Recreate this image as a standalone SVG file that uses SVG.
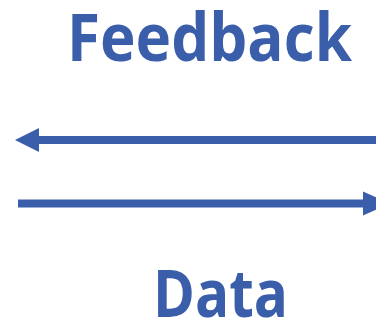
<svg xmlns="http://www.w3.org/2000/svg" width="376" height="324" viewBox="0 0 376 324">
<style>
.t{font-family:"Open Sans","Liberation Sans",sans-serif;font-weight:bold;fill:#3B5EAB;font-size:67px}
.c{stroke:#3B5EAB;stroke-width:8;fill:none}
.h{fill:#3B5EAB}
</style>
<rect width="376" height="324" fill="#FFFFFF"/>
<g id="feedback"><text class="t" x="67" y="61" textLength="285" lengthAdjust="spacingAndGlyphs">Feedback</text></g>
<g id="data"><text class="t" x="153" y="317" textLength="135" lengthAdjust="spacingAndGlyphs">Data</text></g>
<g id="connectors">
<line class="c" x1="376" y1="140" x2="38" y2="140"/>
<polygon class="h" points="15,140 39,128 39,152"/>
<line class="c" x1="18" y1="203.5" x2="365" y2="203.5"/>
<polygon class="h" points="390,203.5 363,191.5 363,215.5"/>
</g>
</svg>
